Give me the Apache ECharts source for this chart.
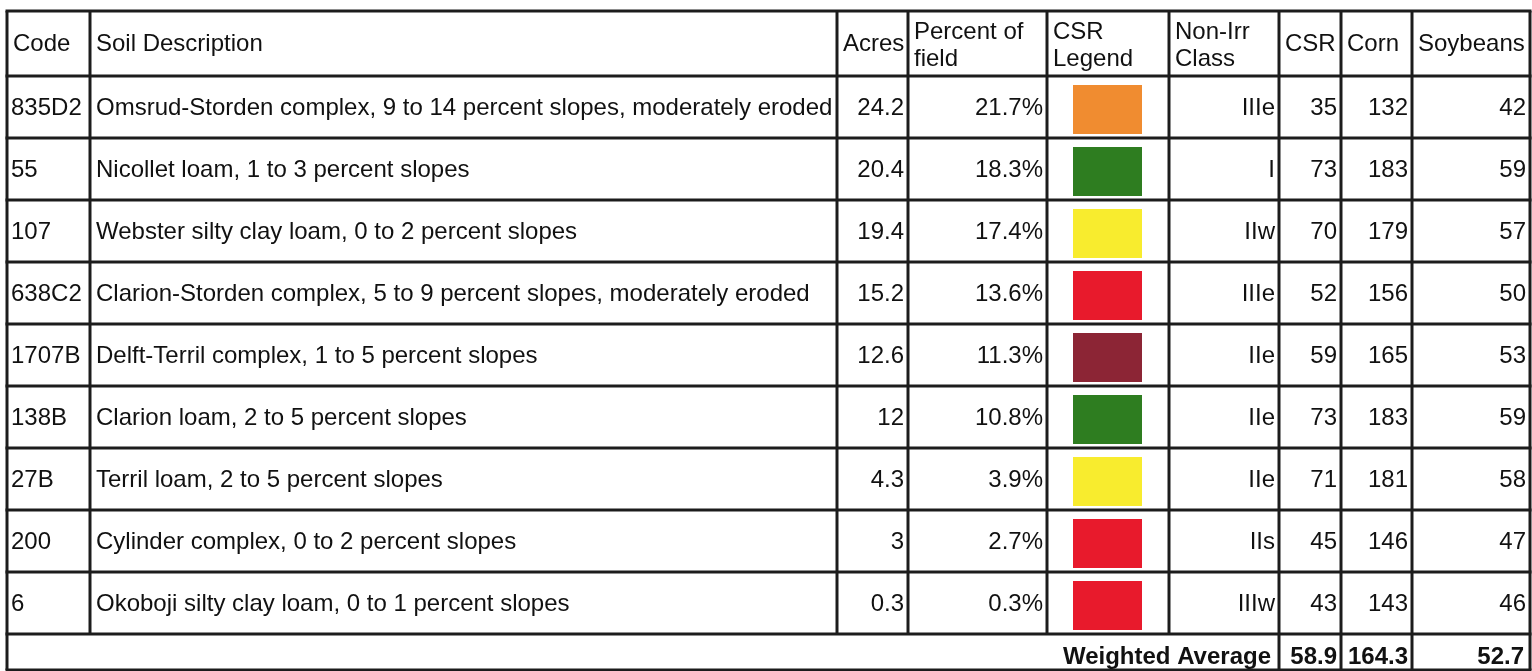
<!DOCTYPE html>
<html>
<head>
<meta charset="utf-8">
<script src="https://cdn.jsdelivr.net/npm/echarts@6/dist/echarts.min.js"></script>
<style>
html,body{margin:0;padding:0;background:#fff;}
#chart{width:1532px;height:671px;}
</style>
</head>
<body>
<div id="chart"></div>
<script>
// ---- data ----
const headers = ['Code', 'Soil Description', 'Acres', 'Percent of\nfield', 'CSR\nLegend', 'Non-Irr\nClass', 'CSR', 'Corn', 'Soybeans'];
const codes = ['835D2', '55', '107', '638C2', '1707B', '138B', '27B', '200', '6'];
const descriptions = [
  'Omsrud-Storden complex, 9 to 14 percent slopes, moderately eroded',
  'Nicollet loam, 1 to 3 percent slopes',
  'Webster silty clay loam, 0 to 2 percent slopes',
  'Clarion-Storden complex, 5 to 9 percent slopes, moderately eroded',
  'Delft-Terril complex, 1 to 5 percent slopes',
  'Clarion loam, 2 to 5 percent slopes',
  'Terril loam, 2 to 5 percent slopes',
  'Cylinder complex, 0 to 2 percent slopes',
  'Okoboji silty clay loam, 0 to 1 percent slopes'
];
const acres = [24.2, 20.4, 19.4, 15.2, 12.6, 12, 4.3, 3, 0.3];
const percentOfField = [21.7, 18.3, 17.4, 13.6, 11.3, 10.8, 3.9, 2.7, 0.3];
const csrLegendColors = ['#F08C30', '#2E7D20', '#F8EC2E', '#E81A2C', '#8C2535', '#2E7D20', '#F8EC2E', '#E81A2C', '#E81A2C'];
const nonIrrClass = ['IIIe', 'I', 'IIw', 'IIIe', 'IIe', 'IIe', 'IIe', 'IIs', 'IIIw'];
const csr = [35, 73, 70, 52, 59, 73, 71, 45, 43];
const corn = [132, 183, 179, 156, 165, 183, 181, 146, 143];
const soybeans = [42, 59, 57, 50, 53, 59, 58, 47, 46];
const weightedLabel = 'Weighted Average';
const weightedValues = [58.9, 164.3, 52.7];

// ---- layout ----
const colEdges = [7, 90, 837, 908, 1047, 1169, 1279, 1341, 1412, 1530];
const headerSpan = 65 / 62;
const footerSpan = 36 / 62;
const LINE = '#1c1c1c';
const TXT = '#111111';
const FONT = '"Liberation Sans", Arial, sans-serif';
const FS = 24;
const LW = 3;

const chart = echarts.init(document.getElementById('chart'));

function X(v, api) { return api.coord([v, 0])[0]; }
function Y(v, api) { return api.coord([0, v])[1]; }

function hline(x1, x2, y) {
  return { type: 'line', shape: { x1: x1, y1: y, x2: x2, y2: y }, style: { stroke: LINE, lineWidth: LW } };
}
function vline(x, y1, y2) {
  return { type: 'line', shape: { x1: x, y1: y1, x2: x, y2: y2 }, style: { stroke: LINE, lineWidth: LW } };
}
function txt(s, x, y, align, bold) {
  return { type: 'text', style: { text: s, x: x, y: y, align: align, verticalAlign: 'middle', fill: TXT,
    font: (bold ? 'bold ' : '') + FS + 'px ' + FONT, lineHeight: 27 } };
}

function renderHeader(params, api) {
  const top = Y(-headerSpan, api), bot = Y(0, api);
  const xs = colEdges.map(v => X(v, api));
  const children = [hline(xs[0] - 1.5, xs[xs.length - 1] + 1.5, top)];
  xs.forEach(x => children.push(vline(x, top, bot)));
  headers.forEach((h, c) => {
    const two = h.indexOf('\n') >= 0;
    children.push(txt(h, xs[c] + 6, (top + bot) / 2 + (two ? 2 : 1), 'left', false));
  });
  return { type: 'group', children: children };
}

function renderRow(params, api) {
  const i = params.dataIndex;
  const top = Y(i, api), bot = Y(i + 1, api);
  const xs = colEdges.map(v => X(v, api));
  const cy = (top + bot) / 2 + 1;
  const children = [hline(xs[0] - 1.5, xs[xs.length - 1] + 1.5, top)];
  xs.forEach(x => children.push(vline(x, top, bot)));
  children.push(txt(codes[i], xs[0] + 4, cy, 'left'));
  children.push(txt(descriptions[i], xs[1] + 6, cy, 'left'));
  children.push(txt(String(acres[i]), xs[3] - 4, cy, 'right'));
  children.push(txt(percentOfField[i].toFixed(1) + '%', xs[4] - 4, cy, 'right'));
  children.push({ type: 'rect', shape: { x: xs[4] + 26, y: top + 9, width: 69, height: 49 },
    style: { fill: csrLegendColors[i] } });
  children.push(txt(nonIrrClass[i], xs[6] - 4, cy, 'right'));
  children.push(txt(String(csr[i]), xs[7] - 4, cy, 'right'));
  children.push(txt(String(corn[i]), xs[8] - 4, cy, 'right'));
  children.push(txt(String(soybeans[i]), xs[9] - 4, cy, 'right'));
  return { type: 'group', children: children };
}

function renderFooter(params, api) {
  const top = Y(codes.length, api), bot = Y(codes.length + footerSpan, api);
  const xs = colEdges.map(v => X(v, api));
  const cy = (top + bot) / 2 + 5;
  const children = [
    hline(xs[0] - 1.5, xs[xs.length - 1] + 1.5, top),
    hline(xs[0] - 1.5, xs[xs.length - 1] + 1.5, bot)
  ];
  [0, 6, 7, 8, 9].forEach(c => children.push(vline(xs[c], top, bot)));
  children.push(txt(weightedLabel, xs[6] - 8, cy, 'right', true));
  children.push(txt(weightedValues[0].toFixed(1), xs[7] - 4, cy, 'right', true));
  children.push(txt(weightedValues[1].toFixed(1), xs[8] - 4, cy, 'right', true));
  children.push(txt(weightedValues[2].toFixed(1), xs[9] - 6, cy, 'right', true));
  return { type: 'group', children: children };
}

chart.setOption({
  animation: false,
  backgroundColor: '#ffffff',
  grid: { left: 0, right: 0, top: 11, bottom: 1 },
  xAxis: { type: 'value', min: 0, max: 1532, show: false },
  yAxis: { type: 'value', min: -headerSpan, max: codes.length + footerSpan, inverse: true, show: false },
  series: [
    { type: 'custom', renderItem: renderHeader, data: [[0, -1]], clip: false },
    { type: 'custom', renderItem: renderRow, data: codes.map((c, i) => [0, i]), clip: false },
    { type: 'custom', renderItem: renderFooter, data: [[0, codes.length]], clip: false }
  ]
});
</script>
</body>
</html>
